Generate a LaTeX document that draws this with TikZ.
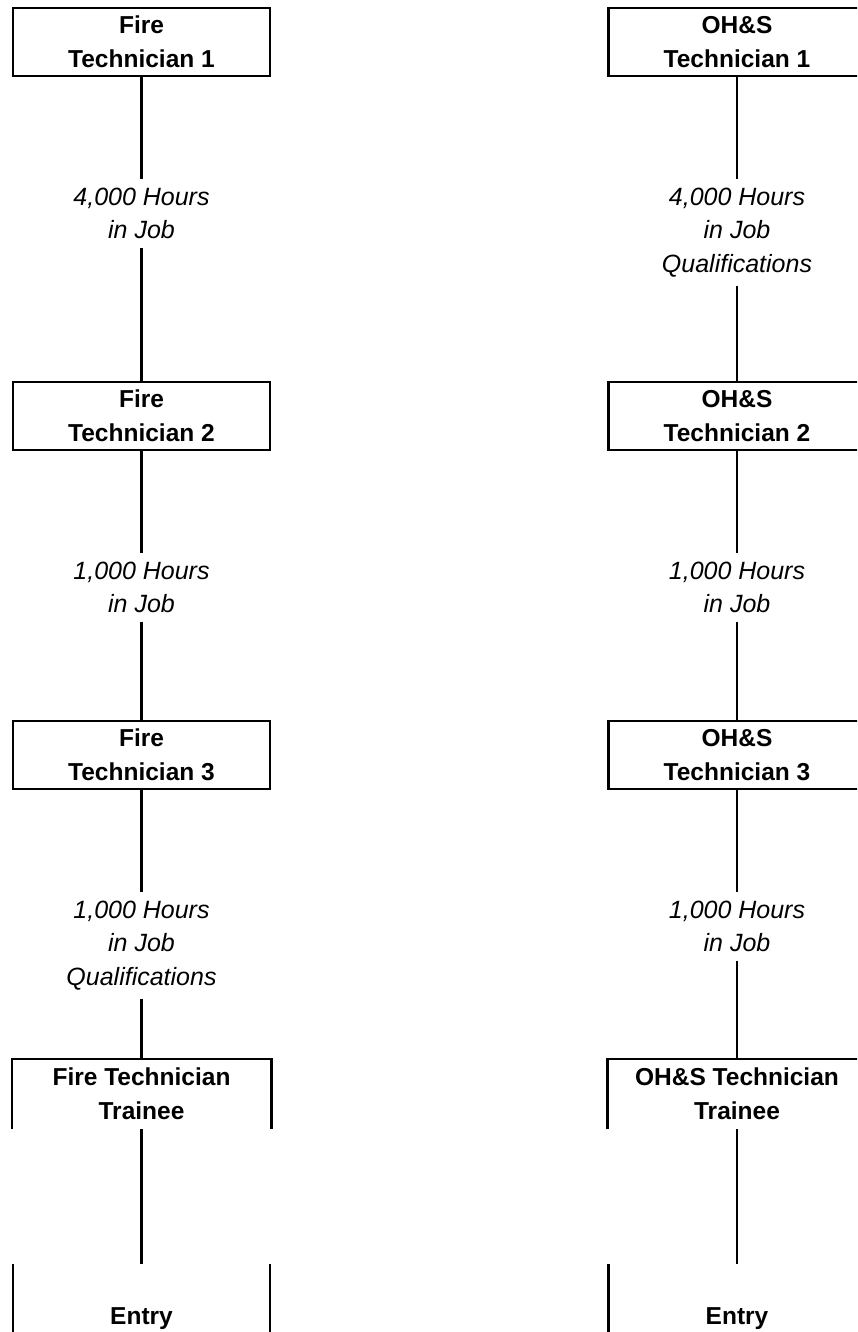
\documentclass[tikz,border=0pt]{standalone}
\usepackage{fontspec}
\setmainfont{Liberation Sans}
\begin{document}
\begin{tikzpicture}[x=1pt,y=-1pt,
  conn/.style={line width=2.5pt},
  box/.style={draw, line width=2.5pt, minimum width=257pt, minimum height=68pt, inner sep=0pt, align=center, font=\fontsize{24.5}{34}\selectfont\bfseries},
  openbox/.style={box, draw=none},
  frame/.style={draw=none, minimum width=257pt, minimum height=76pt, inner sep=0pt},
  boldtxt/.style={inner sep=0pt, font=\fontsize{24.5}{34}\selectfont\bfseries},
  lbl/.style={anchor=north, align=center, inner xsep=0pt, inner ysep=8.5pt, font=\fontsize{25}{33.5}\selectfont\itshape}]
\clip (0,0) rectangle (857,1332);
% ---------- left column ----------
\node[box] (f1) at (141.5,42) {Fire\\Technician 1};
\node[lbl] (fl1) at (141.5,179) {4,000 Hours\\in Job};
\node[box] (f2) at (141.5,416) {Fire\\Technician 2};
\node[lbl] (fl2) at (141.5,553) {1,000 Hours\\in Job};
\node[box] (f3) at (141.5,755) {Fire\\Technician 3};
\node[lbl] (fl3) at (141.5,892) {1,000 Hours\\in Job\\Qualifications};
\node[openbox] (f4) at (141.5,1094) {Fire Technician\\Trainee};
\node[frame] (f5) at (141.5,1302) {};
\node[boldtxt] (f5t) at (141.5,1319) {Entry};
\draw[conn] (f1.south) -- (fl1.north);
\draw[conn] (fl1.south) -- (f2.north);
\draw[conn] (f2.south) -- (fl2.north);
\draw[conn] (fl2.south) -- (f3.north);
\draw[conn] (f3.south) -- (fl3.north);
\draw[conn] (fl3.south) -- (f4.north);
\draw[conn] (f4.south) -- (f5.north);
\draw[conn] (f4.south west) -- (f4.north west) -- (f4.north east) -- (f4.south east);
\draw[conn] (f5.north west) -- (f5.south west);
\draw[conn] (f5.north east) -- (f5.south east);
% ---------- right column ----------
\node[box] (o1) at (737,42) {OH\&S\\Technician 1};
\node[lbl] (ol1) at (737,179) {4,000 Hours\\in Job\\Qualifications};
\node[box] (o2) at (737,416) {OH\&S\\Technician 2};
\node[lbl] (ol2) at (737,553) {1,000 Hours\\in Job};
\node[box] (o3) at (737,755) {OH\&S\\Technician 3};
\node[lbl] (ol3) at (737,892) {1,000 Hours\\in Job};
\node[openbox] (o4) at (737,1094) {OH\&S Technician\\Trainee};
\node[frame] (o5) at (737,1302) {};
\node[boldtxt] (o5t) at (737,1319) {Entry};
\draw[conn] (o1.south) -- (ol1.north);
\draw[conn] (ol1.south) -- (o2.north);
\draw[conn] (o2.south) -- (ol2.north);
\draw[conn] (ol2.south) -- (o3.north);
\draw[conn] (o3.south) -- (ol3.north);
\draw[conn] (ol3.south) -- (o4.north);
\draw[conn] (o4.south) -- (o5.north);
\draw[conn] (o4.south west) -- (o4.north west) -- (o4.north east) -- (o4.south east);
\draw[conn] (o5.north west) -- (o5.south west);
\draw[conn] (o5.north east) -- (o5.south east);
\end{tikzpicture}
\end{document}
